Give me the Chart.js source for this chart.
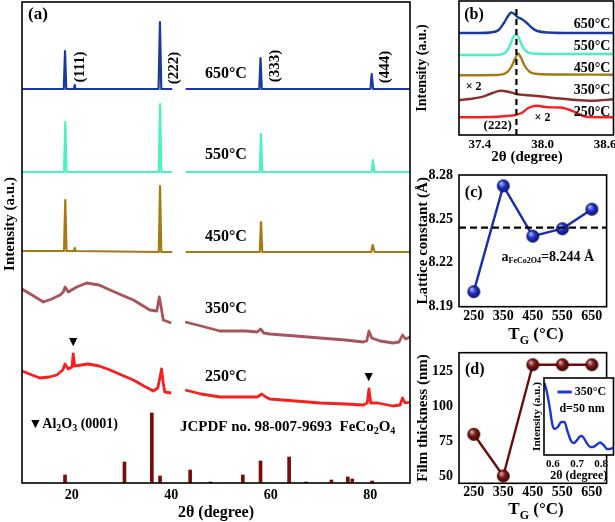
<!DOCTYPE html>
<html>
<head>
<meta charset="utf-8">
<script src="https://cdn.jsdelivr.net/npm/chart.js@4.4.0/dist/chart.umd.min.js"></script>
<style>
  html, body { margin: 0; padding: 0; background: #fff; }
  #wrap { position: relative; width: 615px; height: 522px; overflow: hidden; }
  #wrap canvas { position: absolute; left: 0; top: 0; }
</style>
</head>
<body>
<div id="wrap">
  <canvas id="ca" width="615" height="522"></canvas>
  <canvas id="cb" width="615" height="522"></canvas>
  <canvas id="cc" width="615" height="522"></canvas>
  <canvas id="cd" width="615" height="522"></canvas>
  <canvas id="ci" width="615" height="522"></canvas>
</div>
<script>
// ---- (a) XRD patterns, stacked with an offset per growth temperature ----
const a650L = [[10,394],[18.4,394],[18.65,432],[18.9,394],[20.45,394],[20.6,398],[20.75,394],[37.45,394],[37.73,461],[38.0,394],[40.2,394]];
const a650R = [[42.9,394],[57.7,394],[57.95,425],[58.2,394],[80.05,394],[80.3,409],[80.6,394],[88,394]];
const a550L = [[10,311],[18.45,311],[18.7,361],[18.95,311],[37.5,311],[37.75,379],[38.0,311],[40.2,311]];
const a550R = [[42.9,311],[57.8,311],[58.05,349],[58.3,311],[80.3,311],[80.55,323],[80.85,311],[88,311]];
const a450L = [[10,232],[18.45,232],[18.7,283],[18.95,232],[20.45,232],[20.6,235],[20.75,232],[37.5,231],[37.75,297],[38.0,231],[40.2,231]];
const a450R = [[42.9,231],[57.8,231],[58.05,261],[58.3,231],[80.2,231],[80.5,238],[80.9,231],[88,231]];
const a350L = [[10,194],[12,188],[14.3,181],[16,184],[17.65,188],[18.3,191],[18.65,196],[19.3,191],[21,196],[23,200],[25.5,198],[27.7,193],[30,188],[32.4,183],[35.7,173],[37.1,172],[37.6,186],[38.0,175],[38.4,163],[40,160]];
const a350R = [[42.8,161],[46,157],[49.8,152],[55,152],[57.3,151],[57.95,154],[58.6,150],[59.8,149],[65,147],[69.9,145],[75,143],[78.6,141],[79.3,142],[79.75,152],[80.3,145],[82,142],[84.6,140],[85.8,141],[86.5,148],[87.1,144],[88,146]];
const a250L = [[10,112],[12,108],[13.6,105],[15.5,106],[17,108],[18.2,113],[18.65,119],[19.3,114],[20.05,116],[20.3,129],[20.6,117],[23.3,119],[25.5,117],[27.7,113],[30,108],[32.4,103],[34.5,97],[36.4,92],[37.3,95],[37.75,106],[38.05,114],[38.4,100],[38.7,91],[40,90]];
const a250R = [[42.8,93],[46,89],[49.8,86],[54,86],[57.3,86],[58.2,89],[59,86],[59.8,84],[65,82],[69.9,80],[75,79],[78.6,78],[79.4,80],[79.75,94],[80.1,80],[81.5,80],[84.6,77],[86,78],[86.5,85],[87,80],[88,81]];
// JCPDF 98-007-9693 reference sticks
const jcpdfPos = [18.65, 30.6, 36.1, 37.75, 43.8, 47.9, 54.4, 57.95, 63.7, 67.1, 72.2, 75.5, 76.4, 80.4];
const jcpdfInt = [8, 21, 70, 7, 13, 1, 8, 22, 26, 1, 3, 6, 4, 2];
const aTicks = [20, 40, 60, 80];

// ---- (b) zoom on the (222) reflection ----
const b650 = [[37.2,102],[37.4,102],[37.5,102.5],[37.58,105],[37.63,112],[37.67,119],[37.7,122.5],[37.73,121],[37.76,118],[37.8,116],[37.85,112],[37.9,107],[37.95,104],[38.05,102.5],[38.3,102],[38.68,102]];
const b550 = [[37.2,80],[37.55,80],[37.64,82],[37.69,90],[37.72,98],[37.745,100.5],[37.77,98],[37.8,90],[37.84,84],[37.9,81.5],[38.1,81],[38.68,81]];
const b450 = [[37.2,59.7],[37.55,60],[37.65,62],[37.7,68],[37.74,77],[37.765,81.5],[37.79,78],[37.83,69],[37.88,63],[37.95,61],[38.2,60.5],[38.68,60.3]];
const b350 = [[37.2,35],[37.3,36],[37.43,38.3],[37.52,42],[37.6,44.3],[37.68,43],[37.75,41],[37.83,40],[37.95,39],[38.14,36.7],[38.32,35],[38.48,34.3],[38.68,35.7]];
const b250 = [[37.2,17.7],[37.5,18],[37.65,19],[37.74,20],[37.8,22],[37.86,26.7],[37.94,29.3],[38.05,27.7],[38.17,27.5],[38.26,25],[38.33,22],[38.39,19],[38.45,18],[38.68,17.7]];
const bRef = 37.75;
const bTicks = [37.4, 38.0, 38.6];

// ---- (c) lattice constant, (d) film thickness ----
const tg = [250, 350, 450, 550, 650];
const lattice = [8.2003, 8.2726, 8.2382, 8.2433, 8.2566];
const aBulk = 8.244;
const latticeTicks = [8.19, 8.22, 8.25, 8.28];
const thickness = [80, 50, 130, 130, 130];
const thickTicks = [50, 75, 100, 125];

// ---- (d) inset: XRR of the 350 °C film ----
const xrr = [[0.565,72],[0.575,63],[0.587,47],[0.598,30],[0.607,26],[0.62,28],[0.635,33],[0.648,33],[0.66,24],[0.675,14],[0.687,12],[0.70,15],[0.715,19],[0.725,18],[0.74,12],[0.755,8],[0.765,8],[0.78,10],[0.795,12.5],[0.81,10],[0.825,6],[0.835,6],[0.85,7.3]];
const xrrTicks = [0.6, 0.7, 0.8];

const SERIF = '"Liberation Serif", "Times New Roman", serif';
Chart.defaults.font.family = SERIF;
Chart.defaults.color = '#000';

const C650 = '#1b3a9e', C550 = '#4df0c4', C450 = '#a57a14', C350 = '#a8545c', C250 = '#f52020';

function toXY(arr) { return arr.map(p => ({x: p[0], y: p[1]})); }
function broken(l, r) { return toXY(l).concat([{x: 41.6, y: null}], toXY(r)); }

function line(data, color, w, extra) {
  return Object.assign({type: 'line', data, borderColor: color, borderWidth: w, pointRadius: 0,
    fill: false, tension: 0, spanGaps: false, borderJoinStyle: 'round'}, extra || {});
}

function fitW(w) { return s => { s.width = w; s.paddingTop = s.paddingBottom = 0; }; }
function fitH(h) { return s => { s.height = h; s.paddingLeft = s.paddingRight = 0; }; }
function fixTicks(list) { return s => { s.ticks = list.map(v => ({value: v})); }; }
function bold(size) { return {family: SERIF, size, weight: 'bold'}; }

function drawRich(ctx, parts, x, y, size, align, rot) {
  ctx.save();
  ctx.translate(x, y);
  if (rot) ctx.rotate(rot);
  ctx.fillStyle = '#000';
  ctx.textBaseline = 'middle';
  ctx.textAlign = 'left';
  const list = typeof parts === 'string' ? [{t: parts}] : parts;
  const segs = list.map(p => {
    const s = p.sub ? Math.round(size * (p.k || 0.68)) : size;
    const font = 'bold ' + s + 'px ' + SERIF;
    ctx.font = font;
    return {t: p.t, font, w: ctx.measureText(p.t).width, dy: p.sub ? size * 0.32 : 0};
  });
  const total = segs.reduce((a, s) => a + s.w, 0);
  let cx = align === 'left' ? 0 : align === 'right' ? -total : -total / 2;
  segs.forEach(s => { ctx.font = s.font; ctx.fillText(s.t, cx, s.dy); cx += s.w; });
  ctx.restore();
}

function notesPlugin(notes) {
  return {
    id: 'notes',
    afterDraw(chart) {
      const ctx = chart.ctx, xs = chart.scales.x, ys = chart.scales.y;
      notes.forEach(n => {
        if (n.seg) {
          ctx.save();
          ctx.strokeStyle = n.color; ctx.lineWidth = n.w;
          ctx.beginPath();
          ctx.moveTo(xs.getPixelForValue(n.seg[0]), ys.getPixelForValue(n.y));
          ctx.lineTo(xs.getPixelForValue(n.seg[1]), ys.getPixelForValue(n.y));
          ctx.stroke(); ctx.restore();
          return;
        }
        const px = n.px !== undefined ? n.px : xs.getPixelForValue(n.x);
        const py = n.py !== undefined ? n.py : ys.getPixelForValue(n.y);
        drawRich(ctx, n.parts, px, py, n.size, n.align || 'center', n.rot || 0);
      });
    }
  };
}

const boxPlugin = {
  id: 'box',
  beforeDatasetsDraw(chart, args, opts) {
    if (!opts.fill) return;
    const a = chart.chartArea, ctx = chart.ctx;
    ctx.save(); ctx.fillStyle = '#fff';
    ctx.fillRect(a.left, a.top, a.right - a.left, a.bottom - a.top);
    ctx.restore();
  },
  afterDatasetsDraw(chart) {
    const a = chart.chartArea, ctx = chart.ctx;
    ctx.save(); ctx.strokeStyle = '#000'; ctx.lineWidth = 1.6;
    ctx.strokeRect(a.left, a.top, a.right - a.left, a.bottom - a.top);
    ctx.restore();
  }
};

function sphere(r, hi, mid, lo) {
  const c = document.createElement('canvas');
  const d = Math.ceil(r * 2) + 2;
  c.width = c.height = d;
  const g = c.getContext('2d'), m = d / 2;
  const grd = g.createRadialGradient(m - r * 0.35, m - r * 0.4, r * 0.1, m, m, r);
  grd.addColorStop(0, hi); grd.addColorStop(0.45, mid); grd.addColorStop(1, lo);
  g.fillStyle = grd; g.beginPath(); g.arc(m, m, r, 0, Math.PI * 2); g.fill();
  return c;
}

const base = {responsive: false, animation: false, devicePixelRatio: 1,
  plugins: {legend: {display: false}, tooltip: {enabled: false}}};
const noGrid = {display: false, drawTicks: false, offset: false};
const noBorder = {display: false};

// ---------------- (a) ----------------
new Chart(document.getElementById('ca'), {
  type: 'line',
  data: {datasets: [
    line(broken(a650L, a650R), C650, 2.2),
    line(broken(a550L, a550R), C550, 2.2),
    line(broken(a450L, a450R), C450, 2.2),
    line(broken(a350L, a350R), C350, 2.8),
    line(broken(a250L, a250R), C250, 2.8),
    {type: 'bar', data: jcpdfPos.map((x, i) => ({x, y: jcpdfInt[i]})), backgroundColor: '#7b0c0c',
      barThickness: 3, borderWidth: 0}
  ]},
  options: Object.assign({}, base, {
    layout: {padding: {left: 0, right: 205, top: 2, bottom: 0}},
    scales: {
      x: {type: 'linear', offset: false, min: 10, max: 88, afterBuildTicks: fixTicks(aTicks), afterFit: fitH(39),
        grid: noGrid, border: noBorder,
        ticks: {padding: 4, font: bold(14), autoSkip: false, maxRotation: 0},
        title: {display: true, text: '2θ (degree)', font: bold(16), padding: 0}},
      y: {type: 'linear', min: 0, max: 481, afterFit: fitW(22), grid: noGrid, border: noBorder,
        ticks: {display: false}}
    }
  }),
  plugins: [boxPlugin, notesPlugin([
    {parts: '(a)', x: 11.2, y: 468, size: 17, align: 'left'},
    {parts: '(111)', x: 21.7, y: 416, size: 15, rot: -Math.PI / 2},
    {parts: '(222)', x: 40.6, y: 415, size: 15, rot: -Math.PI / 2},
    {parts: '(333)', x: 60.8, y: 417, size: 15, rot: -Math.PI / 2},
    {parts: '(444)', x: 82.9, y: 416, size: 15, rot: -Math.PI / 2},
    {parts: '650°C', x: 51, y: 409, size: 16},
    {parts: '550°C', x: 51, y: 328, size: 16},
    {parts: '450°C', x: 51, y: 246, size: 16},
    {parts: '350°C', x: 51, y: 174, size: 16},
    {parts: '250°C', x: 51, y: 106, size: 16},
    {parts: '▼', x: 20.3, y: 141, size: 14},
    {parts: '▼', x: 79.7, y: 106, size: 14},
    {parts: [{t: '▼'}, {t: 'Al'}, {t: '2', sub: 1}, {t: 'O'}, {t: '3', sub: 1}, {t: ' (0001)'}], x: 11.3, y: 59, size: 14, align: 'left'},
    {parts: [{t: 'JCPDF no. 98-007-9693  FeCo'}, {t: '2', sub: 1}, {t: 'O'}, {t: '4', sub: 1}], x: 41.75, y: 56, size: 15, align: 'left'},
    {parts: 'Intensity (a.u.)', px: 10, py: 224, size: 15, rot: -Math.PI / 2}
  ])]
});

// ---------------- (b) ----------------
new Chart(document.getElementById('cb'), {
  type: 'line',
  data: {datasets: [
    line([{x: bRef, y: 0}, {x: bRef, y: 126}], '#000', 2.2, {borderDash: [6, 4]}),
    line(toXY(b650), C650, 2.4, {cubicInterpolationMode: 'monotone'}),
    line(toXY(b550), C550, 2.4, {cubicInterpolationMode: 'monotone'}),
    line(toXY(b450), C450, 2.4, {cubicInterpolationMode: 'monotone'}),
    line(toXY(b350), '#8a2e2e', 2.4, {cubicInterpolationMode: 'monotone'}),
    line(toXY(b250), C250, 2.4, {cubicInterpolationMode: 'monotone'})
  ]},
  options: Object.assign({}, base, {
    layout: {padding: {left: 414, right: 1.5, top: 1, bottom: 354}},
    scales: {
      x: {type: 'linear', min: 37.2, max: 38.68, afterBuildTicks: fixTicks(bTicks), afterFit: fitH(33),
        grid: noGrid, border: noBorder,
        ticks: {padding: 2, font: bold(13), autoSkip: false, maxRotation: 0, callback: v => v.toFixed(1)}},
      y: {type: 'linear', min: 0, max: 134, afterFit: fitW(45), grid: noGrid, border: noBorder,
        ticks: {display: false},
        title: {display: true, text: 'Intensity (a.u.)', font: bold(14), padding: 0}}
    }
  }),
  plugins: [boxPlugin, notesPlugin([
    {parts: '(b)', x: 37.25, y: 120, size: 16, align: 'left'},
    {parts: '650°C', x: 38.65, y: 111, size: 14, align: 'right'},
    {parts: '550°C', x: 38.65, y: 88.3, size: 14, align: 'right'},
    {parts: '450°C', x: 38.65, y: 66.7, size: 14, align: 'right'},
    {parts: '350°C', x: 38.65, y: 44.3, size: 14, align: 'right'},
    {parts: '250°C', x: 38.65, y: 22.3, size: 14, align: 'right'},
    {parts: '× 2', x: 37.34, y: 47.7, size: 12},
    {parts: '× 2', x: 38.0, y: 16.7, size: 12},
    {parts: '(222)', x: 37.57, y: 9, size: 13},
    {parts: '2θ (degree)', px: 527, py: 157, size: 15}
  ])]
});

// ---------------- (c) ----------------
const blueBall = sphere(6.5, '#a9b4ff', '#2234cc', '#0a0f66');
new Chart(document.getElementById('cc'), {
  type: 'line',
  data: {datasets: [
    line([{x: 200, y: aBulk}, {x: 700, y: aBulk}], '#000', 2.2, {borderDash: [7, 4]}),
    line(tg.map((x, i) => ({x, y: lattice[i]})), '#1a2ea8', 2.4, {pointStyle: blueBall, pointRadius: 6})
  ]},
  options: Object.assign({}, base, {
    layout: {padding: {left: 414, right: 1.5, top: 175, bottom: 175.3}},
    scales: {
      x: {type: 'linear', min: 200, max: 700, afterBuildTicks: fixTicks(tg), afterFit: fitH(40),
        grid: noGrid, border: noBorder,
        ticks: {padding: 1, font: bold(14), autoSkip: false, maxRotation: 0}},
      y: {type: 'linear', min: 8.19, max: 8.28, afterBuildTicks: fixTicks(latticeTicks), afterFit: fitW(45),
        grid: noGrid, border: noBorder,
        ticks: {padding: 6, font: bold(14), autoSkip: false, callback: v => v.toFixed(2)},
        title: {display: true, text: 'Lattice constant (Å)', font: bold(15), padding: 0}}
    }
  }),
  plugins: [boxPlugin, notesPlugin([
    {parts: '(c)', x: 219.8, y: 8.2681, size: 16, align: 'left'},
    {parts: [{t: 'a'}, {t: 'FeCo2O4', sub: 1, k: 0.6}, {t: '=8.244 Å'}], x: 344.3, y: 8.224, size: 14, align: 'left'},
    {parts: [{t: 'T'}, {t: 'G', sub: 1}, {t: ' (°C)'}], px: 536, py: 335, size: 17}
  ])]
});

// ---------------- (d) ----------------
const redBall = sphere(6.5, '#e0a0a0', '#7a1818', '#380303');
new Chart(document.getElementById('cd'), {
  type: 'line',
  data: {datasets: [
    line(tg.map((x, i) => ({x, y: thickness[i]})), '#6a0d0d', 2.4, {pointStyle: redBall, pointRadius: 6})
  ]},
  options: Object.assign({}, base, {
    layout: {padding: {left: 414, right: 1.5, top: 352.7, bottom: 0}},
    scales: {
      x: {type: 'linear', min: 200, max: 700, afterBuildTicks: fixTicks(tg), afterFit: fitH(38.7),
        grid: noGrid, border: noBorder,
        ticks: {padding: 1, font: bold(14), autoSkip: false, maxRotation: 0}},
      y: {type: 'linear', min: 44.75, max: 138.66, afterBuildTicks: fixTicks(thickTicks), afterFit: fitW(45),
        grid: noGrid, border: noBorder,
        ticks: {padding: 6, font: bold(14), autoSkip: false},
        title: {display: true, text: 'Film thickness (nm)', font: bold(15), padding: 0}}
    }
  }),
  plugins: [boxPlugin, notesPlugin([
    {parts: '(d)', x: 220, y: 126.1, size: 16, align: 'left'},
    {parts: [{t: 'T'}, {t: 'G', sub: 1}, {t: ' (°C)'}], px: 536, py: 510, size: 17}
  ])]
});

// ---------------- (d) inset ----------------
new Chart(document.getElementById('ci'), {
  type: 'line',
  data: {datasets: [
    line(toXY(xrr), '#1d37d0', 2.4, {cubicInterpolationMode: 'monotone'})
  ]},
  options: Object.assign({}, base, {
    layout: {padding: {left: 531, right: 1.5, top: 378, bottom: 39}},
    plugins: {legend: {display: false}, tooltip: {enabled: false}, box: {fill: true}},
    scales: {
      x: {type: 'linear', min: 0.563, max: 0.851, afterBuildTicks: fixTicks(xrrTicks), afterFit: fitH(28),
        grid: noGrid, border: noBorder,
        ticks: {padding: 3, font: bold(11), autoSkip: false, maxRotation: 0, callback: v => v.toFixed(1)},
        title: {display: true, text: '2θ (degree)', font: bold(12), padding: 0}},
      y: {type: 'linear', min: 0, max: 77, afterFit: fitW(13), grid: noGrid, border: noBorder,
        ticks: {display: false},
        title: {display: true, text: 'Intensity (a.u.)', font: bold(11), padding: 0}}
    }
  }),
  plugins: [boxPlugin, notesPlugin([
    {seg: [0.619, 0.678], y: 63, color: '#1d37d0', w: 3},
    {parts: '350°C', x: 0.69, y: 63, size: 12, align: 'left'},
    {parts: 'd=50 nm', x: 0.627, y: 46, size: 12, align: 'left'}
  ])]
});
</script>
</body>
</html>
